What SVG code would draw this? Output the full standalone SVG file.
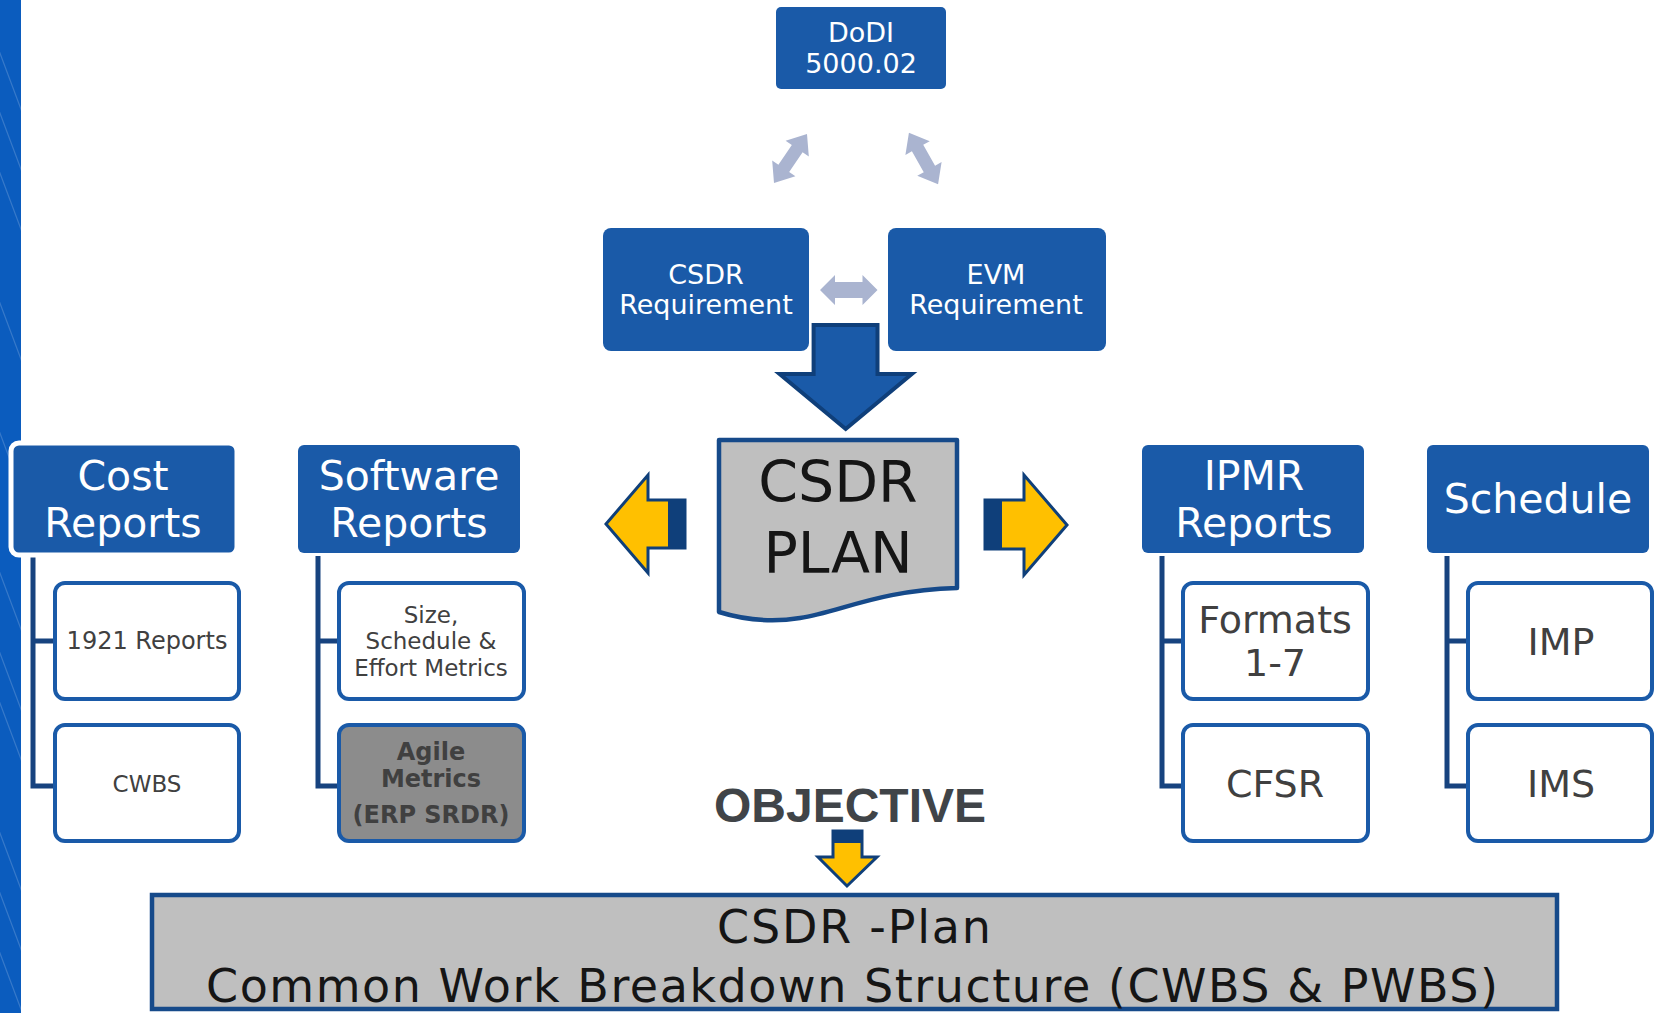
<svg xmlns="http://www.w3.org/2000/svg" width="1654" height="1013" viewBox="0 0 1654 1013">
<defs>
<style>
.hdr{fill:#1a5aa8;}
.hdrtxt{font-family:"DejaVu Sans",Verdana,sans-serif;fill:#ffffff;text-anchor:middle;}
.child{fill:#ffffff;stroke:#1a5aa8;stroke-width:4;}
.ctxt{font-family:"DejaVu Sans",Verdana,sans-serif;fill:#404040;text-anchor:middle;}
.conn{fill:none;stroke:#17437f;stroke-width:5;}
.dbl{fill:#aab4d0;}
.yarrow{fill:#ffc000;stroke:#0f3f7a;stroke-width:3;stroke-linejoin:miter;}
.dark{fill:#0f3f7a;}
.btxt{font-family:"DejaVu Sans",Verdana,sans-serif;fill:#151515;text-anchor:middle;}
</style>
<clipPath id="band"><rect x="0" y="0" width="21" height="1013"/></clipPath>
<path id="dblArrow" d="M-29.5,0 L-12,-14 L-12,-6.5 L12,-6.5 L12,-14 L29.5,0 L12,14 L12,6.5 L-12,6.5 L-12,14 Z"/>
</defs>
<rect width="1654" height="1013" fill="#ffffff"/>
<g id="band-strip">
<rect x="0" y="0" width="21" height="1013" fill="#0b5cbe"/>
<g clip-path="url(#band)" stroke="#ffffff" stroke-opacity="0.18" stroke-width="1.2">
<line x1="-20" y1="0" x2="40" y2="160"/>
<line x1="-20" y1="120" x2="40" y2="280"/>
<line x1="-20" y1="250" x2="40" y2="410"/>
<line x1="-20" y1="380" x2="40" y2="540"/>
<line x1="-20" y1="520" x2="40" y2="680"/>
<line x1="-20" y1="650" x2="40" y2="810"/>
<line x1="-20" y1="780" x2="40" y2="940"/>
<line x1="-20" y1="900" x2="40" y2="1060"/>
<line x1="-20" y1="60" x2="40" y2="220"/>
<line x1="-20" y1="600" x2="40" y2="760"/>
<line x1="-20" y1="840" x2="40" y2="1000"/>
</g>
</g>
<g id="connectors">
<use href="#dblArrow" class="dbl" transform="translate(790.5,158.5) rotate(-56)"/>
<use href="#dblArrow" class="dbl" transform="translate(923.5,158.5) rotate(60.4)"/>
<path class="dbl" d="M820,290 L835,275 L835,282 L862.5,282 L862.5,275 L877.5,290 L862.5,305 L862.5,298 L835,298 L835,305 Z"/>
<path d="M813.6,325 L877.5,325 L877.5,374 L911.8,374 L845.7,429 L779.6,374 L813.6,374 Z" fill="#1a5aa8" stroke="#0f3f7a" stroke-width="4"/>
<path class="yarrow" d="M606,524 L648,475 L648,500 L685,500 L685,548 L648,548 L648,573 Z"/>
<rect class="dark" x="668" y="500" width="17" height="48"/>
<path class="yarrow" d="M1067,525 L1024,475 L1024,500 L985,500 L985,549 L1024,549 L1024,575 Z"/>
<rect class="dark" x="985" y="500" width="17" height="49"/>
<path class="yarrow" d="M833,831 L862,831 L862,857 L877,857 L847,886 L818,857 L833,857 Z"/>
<rect class="dark" x="833" y="831" width="29" height="12"/>
<path class="conn" d="M33,556 V786 H55 M33,641 H55"/>
<path class="conn" d="M318,556 V786 H339 M318,641 H339"/>
<path class="conn" d="M1162,556 V786 H1183 M1162,641 H1183"/>
<path class="conn" d="M1447,556 V786 H1468 M1447,641 H1468"/>
</g>
<g id="dodi">
<rect class="hdr" x="776" y="7" width="170" height="82" rx="5"/>
<text class="hdrtxt" x="861" y="42" font-size="27">DoDI</text>
<text class="hdrtxt" x="861" y="73" font-size="27">5000.02</text>
</g>
<g id="csdr-req">
<rect class="hdr" x="603" y="228" width="206" height="123" rx="8"/>
<text class="hdrtxt" x="706" y="284" font-size="27">CSDR</text>
<text class="hdrtxt" x="706" y="314" font-size="27">Requirement</text>
</g>
<g id="evm-req">
<rect class="hdr" x="888" y="228" width="218" height="123" rx="8"/>
<text class="hdrtxt" x="996" y="284" font-size="27">EVM</text>
<text class="hdrtxt" x="996" y="314" font-size="27">Requirement</text>
</g>
<g id="csdr-plan">
<path d="M719,440 H957 V588 C880,590 840,612 800,618 C770,623 745,620 719,612 Z" fill="#bfbfbf" stroke="#164a8a" stroke-width="4.5" stroke-linejoin="round"/>
<text x="838" y="502" font-family="DejaVu Sans,Verdana,sans-serif" font-size="57" fill="#151515" text-anchor="middle">CSDR</text>
<text x="838" y="573" font-family="DejaVu Sans,Verdana,sans-serif" font-size="57" fill="#151515" text-anchor="middle">PLAN</text>
</g>
<g id="cost-reports">
<rect class="hdr" x="11" y="443" width="226" height="112" rx="8" stroke="#ffffff" stroke-width="5"/>
<text class="hdrtxt" x="123" y="490" font-size="41">Cost</text>
<text class="hdrtxt" x="123" y="537" font-size="41">Reports</text>
</g>
<g id="r1921">
<rect class="child" x="55" y="583" width="184" height="116" rx="10"/>
<text class="ctxt" x="147" y="649" font-size="24">1921 Reports</text>
</g>
<g id="cwbs">
<rect class="child" x="55" y="725" width="184" height="116" rx="10"/>
<text class="ctxt" x="147" y="792" font-size="23">CWBS</text>
</g>
<g id="software-reports">
<rect class="hdr" x="298" y="445" width="222" height="108" rx="6"/>
<text class="hdrtxt" x="409" y="490" font-size="41">Software</text>
<text class="hdrtxt" x="409" y="537" font-size="41">Reports</text>
</g>
<g id="size-metrics">
<rect class="child" x="339" y="583" width="185" height="116" rx="10"/>
<text class="ctxt" x="431" y="623" font-size="23">Size,</text>
<text class="ctxt" x="431" y="649" font-size="23">Schedule &amp;</text>
<text class="ctxt" x="431" y="676" font-size="23">Effort Metrics</text>
</g>
<g id="agile">
<rect class="child" x="339" y="725" width="185" height="116" rx="10" style="fill:#8c8c8c"/>
<text class="ctxt" x="431" y="760" font-size="24" font-weight="bold">Agile</text>
<text class="ctxt" x="431" y="787" font-size="24" font-weight="bold">Metrics</text>
<text class="ctxt" x="431" y="823" font-size="24" font-weight="bold">(ERP SRDR)</text>
</g>
<g id="ipmr-reports">
<rect class="hdr" x="1142" y="445" width="222" height="108" rx="6"/>
<text class="hdrtxt" x="1254" y="490" font-size="41">IPMR</text>
<text class="hdrtxt" x="1254" y="537" font-size="41">Reports</text>
</g>
<g id="formats">
<rect class="child" x="1183" y="583" width="185" height="116" rx="10"/>
<text class="ctxt" x="1275" y="633" font-size="38">Formats</text>
<text class="ctxt" x="1275" y="676" font-size="38">1-7</text>
</g>
<g id="cfsr">
<rect class="child" x="1183" y="725" width="185" height="116" rx="10"/>
<text class="ctxt" x="1275" y="797" font-size="38">CFSR</text>
</g>
<g id="schedule">
<rect class="hdr" x="1427" y="445" width="222" height="108" rx="6"/>
<text class="hdrtxt" x="1538" y="513" font-size="41">Schedule</text>
</g>
<g id="imp">
<rect class="child" x="1468" y="583" width="184" height="116" rx="10"/>
<text class="ctxt" x="1561" y="655" font-size="38">IMP</text>
</g>
<g id="ims">
<rect class="child" x="1468" y="725" width="184" height="116" rx="10"/>
<text class="ctxt" x="1561" y="797" font-size="38">IMS</text>
</g>
<g id="objective">
<text x="850" y="822" font-family="Liberation Sans,Arial,sans-serif" font-size="48" font-weight="bold" fill="#404448" text-anchor="middle">OBJECTIVE</text>
</g>
<g id="cwbs-plan">
<rect x="152" y="895" width="1405" height="114" fill="#bfbfbf" stroke="#164a8a" stroke-width="4.5"/>
<text class="btxt" x="854" y="943" font-size="46" textLength="274" lengthAdjust="spacing">CSDR -Plan</text>
<text class="btxt" x="852" y="1002" font-size="46" textLength="1292" lengthAdjust="spacing">Common Work Breakdown Structure (CWBS &amp; PWBS)</text>
</g>
</svg>
